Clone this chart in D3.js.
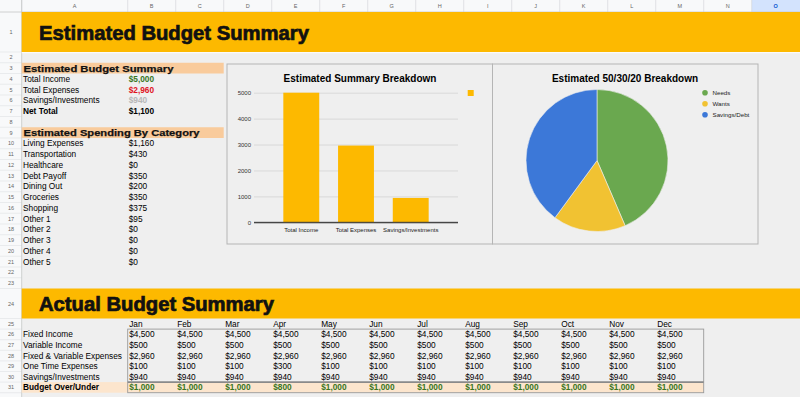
<!DOCTYPE html>
<html>
<head>
<meta charset="utf-8">
<script src="https://cdn.jsdelivr.net/npm/d3@7"></script>
<style>
  body { margin: 0; background: #efefef; }
  svg { display: block; }
  text { font-family: "Liberation Sans", Arial, sans-serif; }
</style>
</head>
<body>
<svg id="sheet" width="800" height="397"></svg>
<script>
// sheet data
var columnLetters = ["A","B","C","D","E","F","G","H","I","J","K","L","M","N","O"];
var summaryLabels = ["Total Income", "Total Expenses", "Savings/Investments", "Net Total"];
var summaryValues = [5000, 2960, 940, 1100];
var spendingCategories = ["Living Expenses", "Transportation", "Healthcare", "Debt Payoff", "Dining Out",
  "Groceries", "Shopping", "Other 1", "Other 2", "Other 3", "Other 4", "Other 5"];
var spendingValues = [1160, 430, 0, 350, 200, 350, 375, 95, 0, 0, 0, 0];
var months = ["Jan","Feb","Mar","Apr","May","Jun","Jul","Aug","Sep","Oct","Nov","Dec"];
var actualRowLabels = ["Fixed Income", "Variable Income", "Fixed & Variable Expenses",
  "One Time Expenses", "Savings/Investments", "Budget Over/Under"];
var fixedIncome = [4500, 4500, 4500, 4500, 4500, 4500, 4500, 4500, 4500, 4500, 4500, 4500];
var variableIncome = [500, 500, 500, 500, 500, 500, 500, 500, 500, 500, 500, 500];
var fixedVariableExpenses = [2960, 2960, 2960, 2960, 2960, 2960, 2960, 2960, 2960, 2960, 2960, 2960];
var oneTimeExpenses = [100, 100, 100, 300, 100, 100, 100, 100, 100, 100, 100, 100];
var savingsInvestments = [940, 940, 940, 940, 940, 940, 940, 940, 940, 940, 940, 940];
var budgetOverUnder = [1000, 1000, 1000, 800, 1000, 1000, 1000, 1000, 1000, 1000, 1000, 1000];

// chart data
var barCategories = ["Total Income", "Total Expenses", "Savings/Investments"];
var barValues = [5000, 2960, 940];
var yTicks = [0, 1000, 2000, 3000, 4000, 5000];
var pieLabels = ["Needs", "Wants", "Savings/Debt"];
var pieValues = [1510, 575, 1385];

var yellow = "#fdb900";
var headFont = "'DejaVu Sans', Verdana, sans-serif";
var money = d3.format("$,.0f");
var svg = d3.select("#sheet");

// grid geometry
var colStart = [21.7];
columnLetters.forEach(function (c, i) { colStart.push(colStart[i] + (i == 0 ? 106 : 48)); });
function rowTop(n) {
  if (n == 1) return 12;
  if (n <= 24) return 52 + (n - 2) * 10.75;
  return 318.5 + (n - 25) * 10.6;
}
function rowH(n) {
  if (n == 1) return 40;
  if (n == 24) return 30;
  return n < 24 ? 10.75 : 10.6;
}
function rowMid(n) { return rowTop(n) + rowH(n) / 2; }

// header row + row numbers
svg.append("rect").attr("x", 0).attr("y", 0).attr("width", 800).attr("height", 12).attr("fill", "#f8f9fa");
svg.append("rect").attr("x", 0).attr("y", 0).attr("width", 21.7).attr("height", 397).attr("fill", "#f8f9fa");
svg.append("rect").attr("x", colStart[14]).attr("y", 0).attr("width", 800 - colStart[14]).attr("height", 12).attr("fill", "#d3e3fd");

svg.append("g").selectAll("line").data(colStart.slice(0, 15)).join("line")
  .attr("x1", d => d).attr("x2", d => d).attr("y1", 0).attr("y2", 12)
  .attr("stroke", "#d6d8db").attr("stroke-width", 0.7);
svg.append("g").selectAll("text").data(columnLetters).join("text")
  .attr("x", (d, i) => (colStart[i] + colStart[i + 1]) / 2).attr("y", 8)
  .attr("text-anchor", "middle").attr("font-size", 5.5)
  .attr("fill", d => d == "O" ? "#0b57d0" : "#666").attr("font-weight", d => d == "O" ? "bold" : "normal")
  .text(d => d);

var rowNums = d3.range(1, 32);
svg.append("g").selectAll("line").data(rowNums).join("line")
  .attr("x1", 0).attr("x2", 21.7).attr("y1", d => rowTop(d) + rowH(d)).attr("y2", d => rowTop(d) + rowH(d))
  .attr("stroke", "#dfe1e4").attr("stroke-width", 0.6);
svg.append("g").selectAll("text").data(rowNums).join("text")
  .attr("x", 11).attr("y", d => rowMid(d) + 2).attr("text-anchor", "middle")
  .attr("font-size", 5.5).attr("fill", "#666").text(d => d);
svg.append("line").attr("x1", 0).attr("x2", 800).attr("y1", 12).attr("y2", 12).attr("stroke", "#c4c7c5").attr("stroke-width", 0.8);
svg.append("line").attr("x1", 21.7).attr("x2", 21.7).attr("y1", 0).attr("y2", 397).attr("stroke", "#c4c7c5").attr("stroke-width", 0.8);

// big title bands
function band(row, label, width) {
  svg.append("rect").attr("x", 21.7).attr("y", row == 1 ? 12 : 288.5)
    .attr("width", 800 - 21.7).attr("height", row == 1 ? 40 : 30).attr("fill", yellow);
  svg.append("text").attr("x", 39).attr("y", row == 1 ? 39.5 : 311)
    .attr("font-family", headFont).attr("font-weight", "bold")
    .attr("font-size", row == 1 ? 20.5 : 19.5).attr("fill", "#111")
    .attr("stroke", "#111").attr("stroke-width", 0.7)
    .attr("textLength", width).attr("lengthAdjust", "spacingAndGlyphs").text(label);
}
band(1, "Estimated Budget Summary", 270);
band(24, "Actual Budget Summary", 235);
svg.append("line").attr("x1", 21.7).attr("x2", 800).attr("y1", 52.6).attr("y2", 52.6).attr("stroke", "#fafafa").attr("stroke-width", 1.2);

// section headers
function section(row, label, width) {
  svg.append("rect").attr("x", 21.7).attr("y", rowTop(row)).attr("width", colStart[3] - 21.7)
    .attr("height", rowH(row)).attr("fill", "#f9cb9c");
  svg.append("text").attr("x", 23.5).attr("y", rowMid(row) + 3.5)
    .attr("font-family", headFont).attr("font-weight", "bold").attr("font-size", 9.3)
    .attr("fill", "#111").attr("stroke", "#111").attr("stroke-width", 0.25)
    .attr("textLength", width).attr("lengthAdjust", "spacingAndGlyphs").text(label);
}
section(3, "Estimated Budget Summary", 150);
section(9, "Estimated Spending By Category", 176);

// summary rows
var summaryColors = ["#38761d", "#e0141e", "#b7b7b7", "#000"];
var summary = svg.append("g");
summary.selectAll("text.l").data(summaryLabels).join("text").attr("class", "l")
  .attr("x", 23).attr("y", (d, i) => rowMid(4 + i) + 3).attr("font-size", 8.3)
  .attr("font-weight", (d, i) => i == 3 ? "bold" : "normal").attr("fill", "#000").text(d => d);
summary.selectAll("text.v").data(summaryValues).join("text").attr("class", "v")
  .attr("x", colStart[1] + 1).attr("y", (d, i) => rowMid(4 + i) + 3).attr("font-size", 8.3)
  .attr("font-weight", "bold").attr("fill", (d, i) => summaryColors[i]).text(d => money(d));

var spending = svg.append("g");
spending.selectAll("text.l").data(spendingCategories).join("text").attr("class", "l")
  .attr("x", 23).attr("y", (d, i) => rowMid(10 + i) + 3).attr("font-size", 8.3).text(d => d);
spending.selectAll("text.v").data(spendingValues).join("text").attr("class", "v")
  .attr("x", colStart[1] + 1).attr("y", (d, i) => rowMid(10 + i) + 3).attr("font-size", 8.3).text(d => money(d));

// actual table
var tableRows = [fixedIncome, variableIncome, fixedVariableExpenses, oneTimeExpenses, savingsInvestments, budgetOverUnder];
svg.append("rect").attr("x", 21.7).attr("y", rowTop(31)).attr("width", colStart[13] - 21.7)
  .attr("height", rowH(31)).attr("fill", "#fce5cd");
svg.append("rect").attr("x", colStart[1]).attr("y", rowTop(26)).attr("width", colStart[13] - colStart[1])
  .attr("height", rowTop(31) + rowH(31) - rowTop(26)).attr("fill", "none").attr("stroke", "#9a9a9a").attr("stroke-width", 0.9);
svg.append("line").attr("x1", colStart[1]).attr("x2", colStart[13]).attr("y1", rowTop(31)).attr("y2", rowTop(31))
  .attr("stroke", "#8a8a8a").attr("stroke-width", 1.6);

svg.append("g").selectAll("text").data(months).join("text")
  .attr("x", (d, i) => colStart[1 + i] + 1.5).attr("y", rowMid(25) + 3).attr("font-size", 8.3).text(d => d);
svg.append("g").selectAll("text").data(actualRowLabels).join("text")
  .attr("x", 23).attr("y", (d, i) => rowMid(26 + i) + 3).attr("font-size", 8.3)
  .attr("font-weight", (d, i) => i == 5 ? "bold" : "normal").text(d => d);
tableRows.forEach(function (vals, r) {
  svg.append("g").selectAll("text").data(vals).join("text")
    .attr("x", (d, i) => colStart[1 + i] + 1.5).attr("y", rowMid(26 + r) + 3).attr("font-size", 8.3)
    .attr("font-weight", r == 5 ? "bold" : "normal").attr("fill", r == 5 ? "#38761d" : "#000")
    .text(d => money(d));
});

// bar chart
svg.append("rect").attr("x", 227).attr("y", 64).attr("width", 265.5).attr("height", 180)
  .attr("fill", "#efefef").attr("stroke", "#b5b5b5").attr("stroke-width", 1);
svg.append("text").attr("x", 360).attr("y", 81.5).attr("text-anchor", "middle")
  .attr("font-size", 10).attr("font-weight", "bold").text("Estimated Summary Breakdown");

var y = d3.scaleLinear().domain([0, 5000]).range([222.3, 92.7]);
var x = d3.scaleBand().domain(barCategories).range([264.5, 447.5]).padding(0.344);

var yAxis = svg.append("g").attr("transform", "translate(254,0)")
  .call(d3.axisLeft(y).tickValues(yTicks).tickSize(-204).tickFormat(d3.format("d")).tickPadding(3));
yAxis.select(".domain").remove();
yAxis.selectAll(".tick line").attr("stroke", d => d == 0 ? "#333" : "#d0d0d0").attr("stroke-width", d => d == 0 ? 0.9 : 0.7);
yAxis.selectAll(".tick text").attr("font-size", 6).attr("fill", "#333").attr("font-family", "'Liberation Sans', Arial, sans-serif");

svg.append("g").selectAll("rect").data(barValues).join("rect")
  .attr("x", (d, i) => x(barCategories[i])).attr("width", x.bandwidth())
  .attr("y", d => y(d)).attr("height", d => y(0) - y(d)).attr("fill", yellow);
svg.append("line").attr("x1", 254).attr("x2", 458).attr("y1", y(0)).attr("y2", y(0))
  .attr("stroke", "#333").attr("stroke-width", 0.9);

var xAxis = svg.append("g").attr("transform", "translate(0," + y(0) + ")")
  .call(d3.axisBottom(x).tickSize(0).tickPadding(5));
xAxis.select(".domain").remove();
xAxis.selectAll("text").attr("font-size", 6).attr("fill", "#222").attr("font-family", "'Liberation Sans', Arial, sans-serif");

svg.append("rect").attr("x", 467.7).attr("y", 90).attr("width", 6).attr("height", 6).attr("fill", yellow);

// pie chart
svg.append("rect").attr("x", 492.5).attr("y", 64).attr("width", 265.5).attr("height", 180)
  .attr("fill", "#efefef").attr("stroke", "#b5b5b5").attr("stroke-width", 1);
svg.append("text").attr("x", 625).attr("y", 81.5).attr("text-anchor", "middle")
  .attr("font-size", 10).attr("font-weight", "bold").text("Estimated 50/30/20 Breakdown");

var pieColors = d3.scaleOrdinal().domain(pieLabels).range(["#6aa84f", "#f1c232", "#3c78d8"]);
var arcs = d3.pie().sort(null)(pieValues);
var arc = d3.arc().innerRadius(0).outerRadius(71);
svg.append("g").attr("transform", "translate(597,160.5)")
  .selectAll("path").data(arcs).join("path")
  .attr("d", arc).attr("fill", (d, i) => pieColors(pieLabels[i]))
  .attr("stroke", "#efefef").attr("stroke-width", 0.6);

var legend = svg.append("g").selectAll("g").data(pieLabels).join("g")
  .attr("transform", (d, i) => "translate(705," + (92.7 + i * 11) + ")");
legend.append("circle").attr("r", 2.8).attr("fill", d => pieColors(d));
legend.append("text").attr("x", 7.5).attr("y", 2.1).attr("font-size", 6.2).attr("fill", "#222").text(d => d);
</script>
</body>
</html>
